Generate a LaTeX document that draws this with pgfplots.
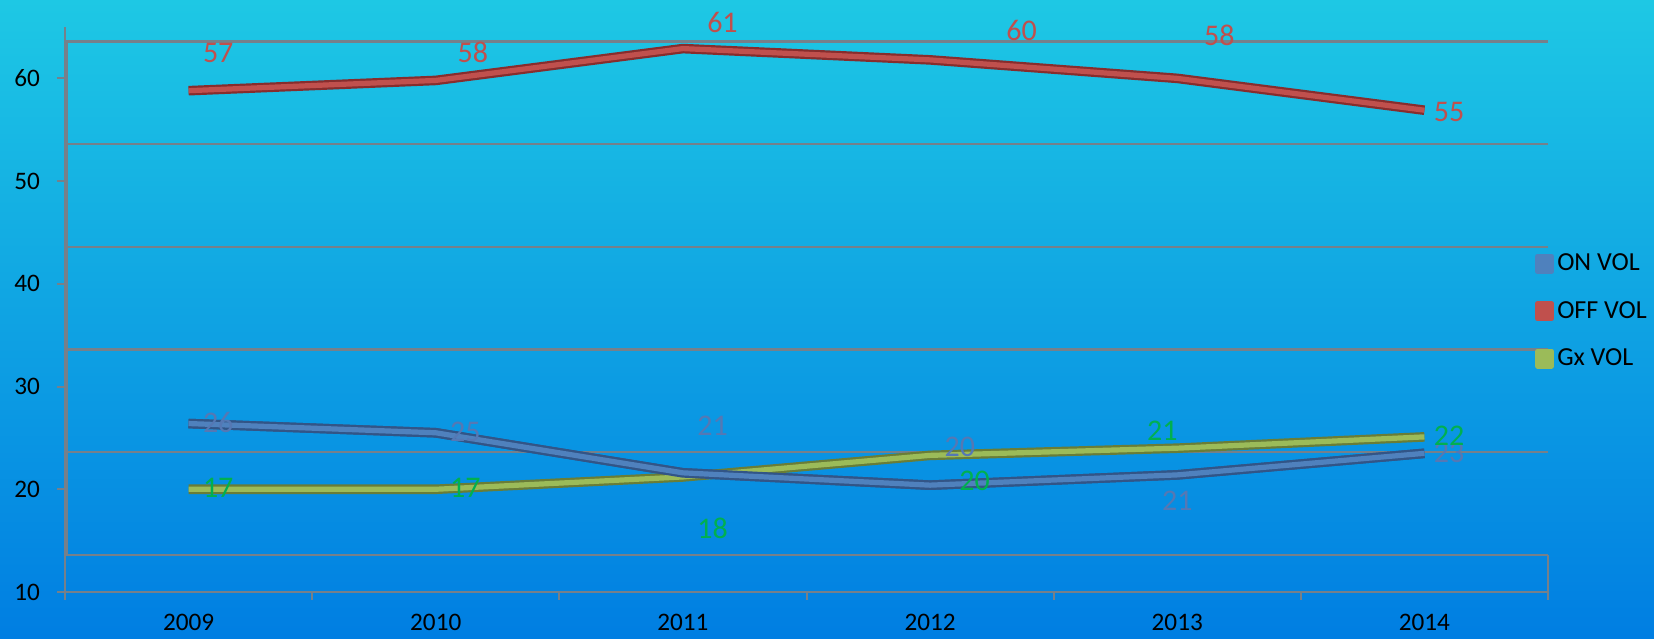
\documentclass[border=0pt]{standalone}
\usepackage{pgfplots}
\usepackage{pgfplotstable}
\pgfplotsset{compat=1.18}
\usetikzlibrary{calc,backgrounds}
\usepackage{fontspec}
\setmainfont{Carlito}
\definecolor{bgtop}{RGB}{30,200,228}
\definecolor{bgbot}{RGB}{0,126,226}
\definecolor{onc}{RGB}{79,129,189}
\definecolor{ondk}{RGB}{50,85,135}
\definecolor{offc}{RGB}{192,80,77}
\definecolor{offdk}{RGB}{135,45,45}
\definecolor{gxc}{RGB}{155,187,89}
\definecolor{gxdk}{RGB}{105,125,55}
\definecolor{gridc}{RGB}{118,128,138}
\definecolor{labgreen}{RGB}{0,176,80}
\definecolor{labblue}{RGB}{85,120,180}
\definecolor{labred}{RGB}{192,80,77}

\pgfplotstableread{
x on off gx
0 26.4 58.8 20.0
1 25.5 59.8 20.0
2 21.6 62.9 21.2
3 20.4 61.8 23.3
4 21.4 60.0 24.0
5 23.5 56.9 25.1
}\lines

\pgfplotstableread{
x y lab
0.12 62.5 57
1.15 62.5 58
2.16 65.4 61
3.37 64.7 60
4.17 64.2 58
5.10 56.7 55
}\offlab

\pgfplotstableread{
x y lab
0.12 26.5 26
1.12 25.6 25
2.12 26.2 21
3.12 24.1 20
4.00 18.9 21
5.10 23.5 23
}\onlab

\pgfplotstableread{
x y lab
0.12 20.1 17
1.12 20.1 17
2.12 16.2 18
3.18 20.8 20
3.94 25.7 21
5.10 25.2 22
}\gxlab

\begin{document}
\begin{tikzpicture}
\begin{axis}[
  scale only axis,
  width=741.5pt, height=282.5pt,
  xmin=-0.5, xmax=5.5, ymin=10, ymax=65,
  clip=false,
  axis x line*=bottom, axis y line*=left,
  axis line style={gridc, line width=1pt, -},
  tick align=outside,
  major tick length=4pt,
  tick style={gridc, line width=1pt},
  /pgf/number format/assume math mode=true,
  xtick={-0.5,0.5,1.5,2.5,3.5,4.5,5.5},
  xticklabels={},
  extra x ticks={0,1,2,3,4,5},
  extra x tick labels={2009,2010,2011,2012,2013,2014},
  extra x tick style={major tick length=0pt, xticklabel style={yshift=-7.5pt}},
  ytick={10,20,30,40,50,60},
  yticklabel style={xshift=-5pt},
  extra y ticks={13.6,23.6,33.6,43.6,53.6,63.6},
  extra y tick labels={},
  extra y tick style={grid=major, major tick length=0pt},
  major grid style={gridc, line width=1.2pt},
  ticklabel style={font=\fontsize{12.6}{14}\selectfont, text=black},
  legend style={at={(axis description cs:0.991,0.497)}, anchor=west,
    draw=none, fill=none, inner sep=0pt, row sep=13.7pt,
    font=\fontsize{13}{15}\selectfont,
    nodes={inner xsep=1.5pt, inner ysep=0pt}},
  legend cell align=left,
  legend image code/.code={\fill[#1] (0pt,-3.7pt) rectangle (7pt,3.7pt);},
  nodes near coords style={anchor=center, font=\fontsize{15}{17}\selectfont},
]
\coordinate (BL) at (rel axis cs:0,0);
\addplot[color=ondk, line width=4.8pt, line join=round, forget plot] table[x=x,y=on] {\lines};
\addplot[color=onc, line width=2.6pt, line join=round] table[x=x,y=on] {\lines};
\addlegendentry{ON VOL}
\addplot[color=offdk, line width=4.8pt, line join=round, forget plot] table[x=x,y=off] {\lines};
\addplot[color=offc, line width=2.6pt, line join=round] table[x=x,y=off] {\lines};
\addlegendentry{OFF VOL}
\addplot[color=gxdk, line width=4.8pt, line join=round, forget plot] table[x=x,y=gx] {\lines};
\addplot[color=gxc, line width=2.6pt, line join=round] table[x=x,y=gx] {\lines};
\addlegendentry{Gx VOL}
\addplot[color=ondk, line width=4.8pt, line join=round, forget plot] table[x=x,y=on] {\lines};
\addplot[color=onc, line width=2.6pt, line join=round, forget plot] table[x=x,y=on] {\lines};

\addplot[draw=none, mark=none, forget plot, nodes near coords, point meta=explicit symbolic,
  every node near coord/.append style={text=labred}] table[x=x,y=y,meta=lab] {\offlab};
\addplot[draw=none, mark=none, forget plot, nodes near coords, point meta=explicit symbolic,
  every node near coord/.append style={text=labblue}] table[x=x,y=y,meta=lab] {\onlab};
\addplot[draw=none, mark=none, forget plot, nodes near coords, point meta=explicit symbolic,
  every node near coord/.append style={text=labgreen}] table[x=x,y=y,meta=lab] {\gxlab};

\draw[gridc, line width=1pt] (axis cs:-0.49,13.6) -- (axis cs:-0.49,63.6);
\draw[gridc, line width=1pt] (axis cs:5.5,10) -- (axis cs:5.5,13.6);
\end{axis}
\pgfresetboundingbox
\path[use as bounding box] ($(BL)+(-32.5pt,-23pt)$) rectangle ++(827pt,319pt);
\begin{scope}[on background layer]
\shade[top color=bgtop, bottom color=bgbot] ($(BL)+(-32.5pt,-23pt)$) rectangle ++(827pt,319pt);
\end{scope}
\end{tikzpicture}
\end{document}
